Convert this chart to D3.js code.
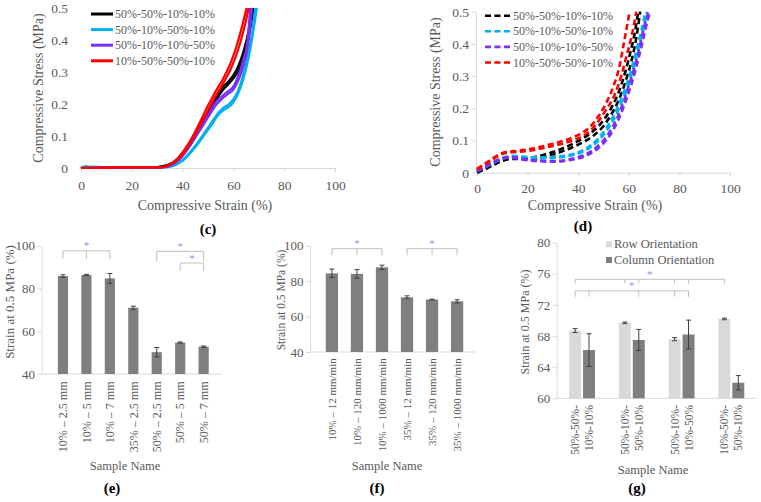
<!DOCTYPE html>
<html>
<head>
<meta charset="utf-8">
<script src="https://cdn.jsdelivr.net/npm/d3@7"></script>
<style>
  body { margin: 0; background: #fff; }
  svg text { font-family: "Liberation Serif", "DejaVu Serif", "Times New Roman", Times, serif; fill: #595959; }
</style>
</head>
<body>
<svg id="fig" width="761" height="502"></svg>
<script>
// ---------- data ----------
const stackNames = ["50%-50%-10%-10%", "50%-10%-50%-10%", "50%-10%-10%-50%", "10%-50%-50%-10%"];
const strainTicks = [0, 20, 40, 60, 80, 100];
const stressTicks = [0, 0.1, 0.2, 0.3, 0.4, 0.5];

// (c) solid curves, [strain %, stress MPa], replicates per sample
const cBlack = [
  [[0,0],[2,0.004],[4,0.002],[15,0.002],[30,0.003],[34,0.008],[38,0.025],[42,0.06],[46,0.11],[50,0.165],[53,0.21],[56,0.245],[58,0.262],[60,0.28],[62,0.305],[64,0.345],[66,0.41],[67.2,0.46],[68,0.5]],
  [[0,0],[2,0.003],[15,0.002],[30,0.003],[34,0.009],[38,0.028],[42,0.065],[46,0.115],[50,0.172],[53,0.218],[56,0.255],[58,0.27],[60,0.29],[62,0.32],[64,0.365],[66,0.43],[67.4,0.5]]
];
const cBlue = [
  [[0,0],[2,0.004],[15,0.002],[32,0.002],[36,0.006],[40,0.022],[44,0.055],[48,0.097],[51,0.13],[54,0.165],[56,0.18],[58,0.19],[60,0.205],[62,0.235],[64,0.28],[66,0.345],[67.5,0.41],[68.5,0.46],[69.2,0.5]],
  [[0,0],[15,0.002],[32,0.002],[36,0.007],[40,0.025],[44,0.06],[48,0.103],[51,0.138],[54,0.172],[56,0.188],[58,0.198],[60,0.215],[62,0.245],[64,0.295],[66,0.36],[67.5,0.43],[68.6,0.5]]
];
const cPurple = [
  [[0,0],[15,0.002],[32,0.002],[35,0.007],[39,0.028],[43,0.07],[47,0.12],[50,0.158],[53,0.195],[56,0.22],[58,0.232],[60,0.245],[62,0.275],[64,0.32],[65.5,0.37],[66.5,0.43],[67.3,0.5]],
  [[0,0],[15,0.002],[32,0.002],[35,0.008],[39,0.03],[43,0.074],[47,0.126],[50,0.165],[53,0.205],[56,0.228],[58,0.24],[60,0.255],[62,0.29],[64,0.34],[65.5,0.395],[66.6,0.5]]
];
const cRed = [
  [[0,0],[15,0.002],[31,0.002],[34,0.006],[38,0.025],[42,0.065],[46,0.12],[50,0.18],[53,0.225],[56,0.265],[59,0.31],[61,0.35],[63,0.4],[64.5,0.445],[66,0.5]],
  [[0,0],[15,0.002],[31,0.002],[34,0.007],[38,0.03],[42,0.072],[46,0.13],[50,0.195],[53,0.24],[56,0.28],[59,0.33],[61,0.375],[63,0.43],[65.2,0.5]]
];

// (d) dashed curves
const dBlack = [
  [[0,0],[3,0.01],[6,0.022],[9,0.033],[12,0.041],[15,0.043],[18,0.042],[22,0.043],[26,0.048],[30,0.056],[34,0.067],[38,0.08],[42,0.095],[46,0.115],[50,0.145],[53,0.18],[56,0.225],[59,0.29],[61,0.345],[63,0.42],[64.5,0.5]],
  [[0,0.003],[3,0.012],[6,0.025],[9,0.037],[12,0.045],[15,0.047],[18,0.046],[22,0.048],[26,0.055],[30,0.064],[34,0.076],[38,0.09],[42,0.107],[46,0.13],[50,0.163],[53,0.2],[56,0.25],[58.5,0.31],[60.5,0.37],[62.5,0.44],[63.7,0.5]]
];
const dBlue = [
  [[0,0.004],[3,0.015],[6,0.028],[9,0.04],[12,0.048],[15,0.05],[18,0.047],[22,0.045],[26,0.045],[30,0.046],[34,0.049],[38,0.055],[42,0.066],[45,0.08],[48,0.1],[51,0.128],[54,0.165],[57,0.215],[60,0.275],[62,0.33],[64,0.39],[66,0.455],[67.2,0.5]],
  [[0,0.006],[3,0.017],[6,0.03],[9,0.042],[12,0.05],[15,0.052],[18,0.05],[22,0.048],[26,0.048],[30,0.049],[34,0.052],[38,0.058],[42,0.07],[45,0.085],[48,0.107],[51,0.137],[54,0.177],[57,0.23],[60,0.295],[62,0.35],[64,0.41],[65.8,0.47],[66.5,0.5]]
];
const dPurple = [
  [[0,0.005],[3,0.016],[6,0.029],[9,0.04],[12,0.046],[15,0.045],[18,0.041],[22,0.037],[26,0.035],[30,0.034],[34,0.036],[38,0.041],[42,0.049],[45,0.06],[48,0.077],[51,0.1],[54,0.135],[57,0.185],[60,0.25],[62,0.3],[64,0.36],[66,0.425],[67.5,0.475],[68.5,0.5]],
  [[0,0.006],[3,0.018],[6,0.031],[9,0.043],[12,0.048],[15,0.047],[18,0.043],[22,0.039],[26,0.037],[30,0.036],[34,0.038],[38,0.044],[42,0.054],[45,0.066],[48,0.085],[51,0.11],[54,0.148],[57,0.2],[60,0.27],[62,0.32],[64,0.38],[66,0.45],[67.8,0.5]]
];
const dRed = [
  [[0,0.01],[3,0.025],[6,0.04],[9,0.055],[12,0.062],[15,0.064],[18,0.066],[22,0.07],[26,0.076],[30,0.083],[34,0.091],[38,0.1],[42,0.115],[45,0.132],[48,0.16],[51,0.195],[54,0.235],[57,0.3],[59,0.36],[61,0.42],[63,0.5]],
  [[0,0.012],[3,0.027],[6,0.043],[9,0.058],[12,0.065],[15,0.067],[18,0.07],[22,0.075],[26,0.082],[30,0.09],[34,0.099],[38,0.11],[42,0.126],[45,0.145],[48,0.175],[51,0.215],[54,0.27],[56,0.32],[58,0.4],[60.3,0.5]]
];

// (e) strain at 0.5 MPa vs infill / size
const eNames = ["10% – 2.5 mm", "10% – 5 mm", "10% – 7 mm", "35% – 2.5 mm", "50% – 2.5 mm", "50% – 5 mm", "50% – 7 mm"];
const eMean = [85.8, 86.3, 84.7, 71.0, 50.2, 54.7, 52.8];
const eErr = [0.6, 0.3, 2.3, 0.7, 2.2, 0.3, 0.3];
// brackets: bar indices with drop ticks, level and drop end (in %)
const eSig = [
  { ticks: [0, 1, 2], level: 97.6, drop: 93.9 },
  { ticks: [4, 6], level: 97.4, drop: 92.7 },
  { ticks: [5, 6], level: 91.9, drop: 88.3 }
];

// (f) strain at 0.5 MPa vs strain rate
const fNames = ["10% – 12 mm/min", "10% – 120 mm/min", "10% – 1000 mm/min", "35% – 12 mm/min", "35% – 120 mm/min", "35% – 1000 mm/min"];
const fMean = [84.4, 84.1, 87.8, 70.9, 69.6, 68.6];
const fErr = [2.4, 2.4, 1.2, 0.8, 0.2, 0.9];
const fSig = [
  { ticks: [0, 1, 2], level: 98.3, drop: 94.6 },
  { ticks: [3, 4, 5], level: 98.3, drop: 94.6 }
];

// (g) orientation
const gGroups = [["50%-50%-", "10%-10%"], ["50%-10%-", "50%-10%"], ["50%-10%-", "10%-50%"], ["10%-50%-", "50%-10%"]];
const gSeries = ["Row Orientation", "Column Orientation"];
const gRow = [68.7, 69.7, 67.6, 70.2];
const gRowErr = [0.25, 0.1, 0.2, 0.1];
const gCol = [66.2, 67.5, 68.2, 62.0];
const gColErr = [2.1, 1.35, 1.85, 0.92];
const gSig = [
  { ticks: [[0,0],[1,0],[1,1],[2,0],[2,1],[3,0]], level: 75.3, drop: 74.75 },
  { ticks: [[0,0],[0,1],[1,1],[2,0],[2,1]], level: 73.8, drop: 73.05 }
];

// ---------- styles ----------
const AXIS = "#d9d9d9", BAR = "#7f7f7f", ROWC = "#d9d9d9", ERR = "#3f3f3f", STAR = "#b57ee6";
const lineColors = ["#000000", "#00b0f0", "#7b2ff7", "#ff0000"];

const svg = d3.select("#fig");

function label(g, x, y, str, size, opt = {}) {
  const t = g.append("text").attr("x", x).attr("y", y).text(str)
    .attr("font-size", size).attr("text-anchor", opt.anchor || "middle");
  if (opt.bold) t.attr("font-weight", "bold").style("fill", "#000");
  return t;
}
function vlabel(g, x, y, str, size, anchor = "middle") {
  return g.append("text").attr("transform", `translate(${x},${y}) rotate(-90)`)
    .attr("dy", "0.35em").attr("text-anchor", anchor).attr("font-size", size).text(str);
}
function styleAxis(a) {
  a.attr("font-family", null);
  a.select(".domain").attr("stroke", AXIS);
  a.selectAll(".tick line").attr("stroke", AXIS);
  a.selectAll(".tick text").style("fill", "#595959");
}

// ---------- stress-strain panels ----------
function linePanel(p) {
  const g = svg.append("g");
  const x = d3.scaleLinear().domain([0, 100]).range([p.x0, p.x1]);
  const y = d3.scaleLinear().domain([0, 0.5]).range([p.y0, p.y1]);

  const ax = g.append("g").attr("transform", `translate(0,${p.y0})`)
    .call(d3.axisBottom(x).tickValues(strainTicks).tickSize(4).tickSizeOuter(0).tickPadding(p.xPad));
  ax.attr("font-size", 13.5);
  styleAxis(ax);

  const ay = g.append("g").attr("transform", `translate(${p.yAxisX},0)`)
    .call(d3.axisLeft(y).tickValues(stressTicks).tickFormat(d => d === 0 ? "0" : d3.format(".1f")(d))
      .tickSize(p.yLine ? 4 : 0).tickSizeOuter(0).tickPadding(p.yLine ? 3 : 13));
  ay.attr("font-size", 13.5);
  styleAxis(ay);
  if (!p.yLine) ay.select(".domain").remove();

  const line = d3.line().x(d => x(d[0])).y(d => y(d[1])).curve(d3.curveMonotoneX);
  p.series.forEach((reps, i) => {
    reps.forEach(r => {
      g.append("path").attr("d", line(r)).attr("fill", "none")
        .attr("stroke", lineColors[i]).attr("stroke-width", p.dash ? 2.6 : 2.2)
        .attr("stroke-dasharray", p.dash || null);
    });
  });

  // legend
  stackNames.forEach((n, i) => {
    const ly = p.legY + i * 15.6;
    g.append("line").attr("x1", p.legX).attr("x2", p.legX + p.legW).attr("y1", ly).attr("y2", ly)
      .attr("stroke", lineColors[i]).attr("stroke-width", p.dash ? 2.6 : 3)
      .attr("stroke-dasharray", p.dash || null);
    label(g, p.legX + p.legW + 2, ly + 4, n, 12, { anchor: "start" });
  });

  vlabel(g, p.ytX, p.ytY, "Compressive Stress (MPa)", 14);
  label(g, p.xtX, p.xtY, "Compressive Strain (%)", 14);
  label(g, p.tagX, p.tagY, p.tag, 15, { bold: true });
}

linePanel({
  x0: 81, x1: 335, y0: 168, y1: 8, yAxisX: 81, yLine: false, xPad: 8,
  series: [cBlack, cBlue, cPurple, cRed], dash: null,
  legX: 91, legY: 14, legW: 22,
  ytX: 38, ytY: 88, xtX: 205, xtY: 210, tagX: 208, tagY: 234, tag: "(c)"
});
linePanel({
  x0: 477, x1: 730, y0: 172.7, y1: 11.7, yAxisX: 476, yLine: true, xPad: 6.5,
  series: [dBlack, dBlue, dPurple, dRed], dash: "6,3.5",
  legX: 485, legY: 15.7, legW: 26,
  ytX: 435, ytY: 92, xtX: 595, xtY: 210, tagX: 583, tagY: 231, tag: "(d)"
});

// ---------- bar panels ----------
function errBar(g, cx, top, bot) {
  g.append("line").attr("x1", cx).attr("x2", cx).attr("y1", top).attr("y2", bot).attr("stroke", ERR).attr("stroke-width", 1);
  [top, bot].forEach(v => g.append("line").attr("x1", cx - 2.5).attr("x2", cx + 2.5).attr("y1", v).attr("y2", v)
    .attr("stroke", ERR).attr("stroke-width", 1));
}
function bracket(g, xs, yl, yd) {
  const x1 = d3.min(xs), x2 = d3.max(xs);
  g.append("line").attr("x1", x1).attr("x2", x2).attr("y1", yl).attr("y2", yl).attr("stroke", "#bfbfbf");
  xs.forEach(xx => g.append("line").attr("x1", xx).attr("x2", xx).attr("y1", yl).attr("y2", yd).attr("stroke", "#bfbfbf"));
  g.append("text").attr("x", (x1 + x2) / 2).attr("y", yl - 1.5).attr("text-anchor", "middle")
    .attr("font-size", 11).style("fill", STAR).text("*");
}
function valueAxis(g, y, ticks, ax0, fs) {
  const a = g.append("g").attr("transform", `translate(${ax0},0)`)
    .call(d3.axisLeft(y).tickValues(ticks).tickSize(4).tickSizeOuter(0).tickPadding(2.5));
  a.attr("font-size", fs);
  styleAxis(a);
}

function barPanel(p) {
  const g = svg.append("g");
  const x = d3.scaleBand().domain(p.names).range([p.bx0, p.bx1]).padding(p.pad);
  const y = d3.scaleLinear().domain(p.dom).range([p.y0, p.y1]);
  valueAxis(g, y, p.ticks, p.ax0, 13);
  g.append("line").attr("x1", p.ax0).attr("x2", p.bx1).attr("y1", p.y0).attr("y2", p.y0).attr("stroke", AXIS);

  g.selectAll("rect.bar").data(p.names).join("rect").attr("class", "bar")
    .attr("x", d => x(d)).attr("width", x.bandwidth())
    .attr("y", (d, i) => y(p.mean[i])).attr("height", (d, i) => p.y0 - y(p.mean[i]))
    .attr("fill", BAR);
  p.names.forEach((n, i) => errBar(g, x(n) + x.bandwidth() / 2, y(p.mean[i] + p.err[i]), y(p.mean[i] - p.err[i])));

  p.names.forEach(n => vlabel(g, x(n) + x.bandwidth() / 2, p.y0 + p.lblOff, n, p.lblSize, "end"));
  p.sig.forEach(s => bracket(g, s.ticks.map(i => x(p.names[i]) + x.bandwidth() / 2), y(s.level), y(s.drop)));

  vlabel(g, p.ytX, p.ytY, "Strain at 0.5 MPa (%)", p.ytSize);
  label(g, p.snX, 470, "Sample Name", 12.5);
  label(g, p.tagX, 493, p.tag, 15, { bold: true });
}

barPanel({
  names: eNames, mean: eMean, err: eErr, sig: eSig,
  dom: [40, 100], ticks: [40, 60, 80, 100], y0: 374, y1: 245.7,
  ax0: 41.5, bx0: 44.6, bx1: 222, pad: 0.566,
  lblOff: 7.5, lblSize: 12, ytX: 9, ytY: 302, ytSize: 13,
  snX: 125, tagX: 112, tag: "(e)"
});
barPanel({
  names: fNames, mean: fMean, err: fErr, sig: fSig,
  dom: [40, 100], ticks: [40, 60, 80, 100], y0: 352, y1: 245.7,
  ax0: 310, bx0: 313, bx1: 476, pad: 0.51,
  lblOff: 6.3, lblSize: 11, ytX: 281, ytY: 300, ytSize: 11.5,
  snX: 387, tagX: 377, tag: "(f)"
});

// (g) grouped bars
(function () {
  const g = svg.append("g");
  const ids = d3.range(gGroups.length);
  const x0 = d3.scaleBand().domain(ids).range([556.7, 756.7]).paddingInner(0.48).paddingOuter(0.25);
  const x1 = d3.scaleBand().domain([0, 1]).range([0, x0.bandwidth()]).paddingInner(0.14);
  const y = d3.scaleLinear().domain([60, 80]).range([398.3, 242.7]);
  valueAxis(g, y, [60, 64, 68, 72, 76, 80], 556.7, 13);
  g.append("line").attr("x1", 556.7).attr("x2", 756.7).attr("y1", 398.3).attr("y2", 398.3).attr("stroke", AXIS);

  const vals = [gRow, gCol], errs = [gRowErr, gColErr], fills = [ROWC, BAR];
  const cx = (gi, s) => x0(gi) + x1(s) + x1.bandwidth() / 2;
  [0, 1].forEach(s => {
    g.selectAll(`rect.s${s}`).data(ids).join("rect").attr("class", `s${s}`)
      .attr("x", gi => x0(gi) + x1(s)).attr("width", x1.bandwidth())
      .attr("y", gi => y(vals[s][gi])).attr("height", gi => 398.3 - y(vals[s][gi]))
      .attr("fill", fills[s]);
    ids.forEach(gi => errBar(g, cx(gi, s), y(vals[s][gi] + errs[s][gi]), y(vals[s][gi] - errs[s][gi])));
  });
  ids.forEach(gi => gGroups[gi].forEach((ln, k) => vlabel(g, cx(gi, k), 405, ln, 11.5, "end")));
  gSig.forEach(sg => bracket(g, sg.ticks.map(t => cx(t[0], t[1])), y(sg.level), y(sg.drop)));

  gSeries.forEach((n, i) => {
    const ly = 244.3 + i * 15.7;
    g.append("rect").attr("x", 606).attr("y", ly - 3).attr("width", 6).attr("height", 6).attr("fill", fills[i]);
    label(g, 614, ly + 4, n, 12.5, { anchor: "start" });
  });
  vlabel(g, 525, 322, "Strain at 0.5 MPa (%)", 12);
  label(g, 653, 473.5, "Sample Name", 12.5);
  label(g, 637, 493, "(g)", 15, { bold: true });
})();
</script>
</body>
</html>
